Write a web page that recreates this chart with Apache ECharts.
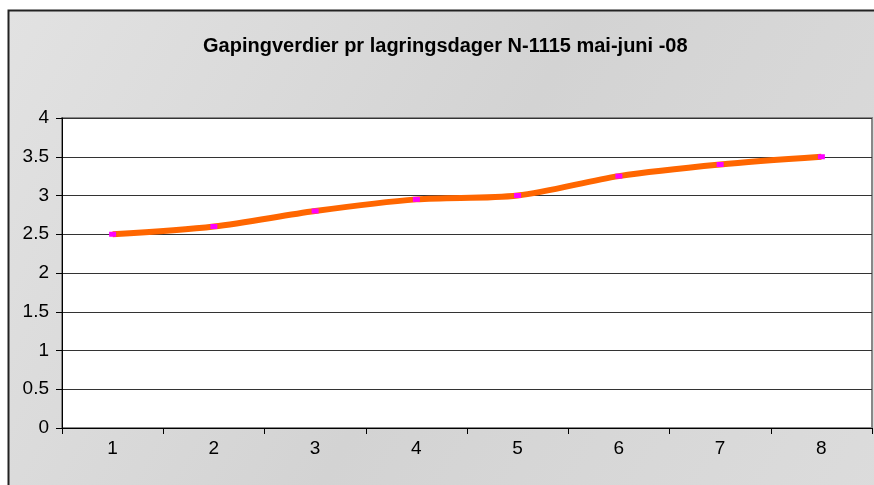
<!DOCTYPE html>
<html>
<head>
<meta charset="utf-8">
<script src="https://cdn.jsdelivr.net/npm/echarts@6/dist/echarts.min.js"></script>
<style>
  html, body { margin: 0; padding: 0; background: #fff; }
  #chart { width: 874px; height: 485px; }
</style>
</head>
<body>
<div id="chart"></div>
<script>
// lagringsdager
var days = ['1', '2', '3', '4', '5', '6', '7', '8'];
// gapingverdier
var gaping = [2.5, 2.6, 2.8, 2.95, 3.0, 3.25, 3.4, 3.5];
var yTicks = [0, 0.5, 1, 1.5, 2, 2.5, 3, 3.5, 4];

var chart = echarts.init(document.getElementById('chart'));

var option = {
  animation: false,
  backgroundColor: '#fff',
  graphic: [{
    type: 'rect',
    z: -10,
    shape: { x: 8.5, y: 10.5, width: 880, height: 490 },
    style: {
      fill: new echarts.graphic.LinearGradient(0, 0, 1, 1, [
        { offset: 0, color: '#e2e2e2' },
        { offset: 0.5, color: '#d3d3d3' },
        { offset: 1, color: '#dcdcdc' }
      ]),
      stroke: '#222',
      lineWidth: 2
    }
  }],
  title: {
    text: 'Gapingverdier pr lagringsdager N-1115 mai-juni -08',
    left: 203,
    top: 36,
    padding: 0,
    textStyle: {
      fontFamily: '"Liberation Sans Narrow", "Liberation Sans", Arial',
      fontWeight: 'bold',
      fontSize: 20,
      color: '#000'
    }
  },
  grid: {
    left: 62,
    right: 2,
    top: 118,
    bottom: 57,
    show: true,
    backgroundColor: '#fff',
    borderColor: '#888',
    borderWidth: 2
  },
  xAxis: {
    type: 'category',
    data: days,
    boundaryGap: true,
    axisLine: { lineStyle: { color: '#000', width: 1 } },
    axisTick: { show: true, length: 6, lineStyle: { color: '#000' } },
    axisLabel: {
      margin: 11,
      fontFamily: '"Liberation Sans", Arial',
      fontSize: 19,
      color: '#000'
    },
    splitLine: { show: false }
  },
  yAxis: {
    type: 'value',
    min: yTicks[0],
    max: yTicks[yTicks.length - 1],
    interval: 0.5,
    axisLine: { show: true, lineStyle: { color: '#000', width: 1 } },
    axisTick: { show: true, length: 6, lineStyle: { color: '#000' } },
    axisLabel: {
      margin: 13,
      fontFamily: '"Liberation Sans", Arial',
      fontSize: 19,
      color: '#000'
    },
    splitLine: { show: true, lineStyle: { color: '#333', width: 1 } }
  },
  series: [{
    type: 'line',
    data: gaping,
    smooth: 0.3,
    symbol: 'rect',
    symbolSize: [7, 5],
    showAllSymbol: true,
    itemStyle: { color: '#ff00ff', borderWidth: 0 },
    lineStyle: { color: '#ff6600', width: 6 }
  }]
};

chart.setOption(option);
</script>
</body>
</html>
